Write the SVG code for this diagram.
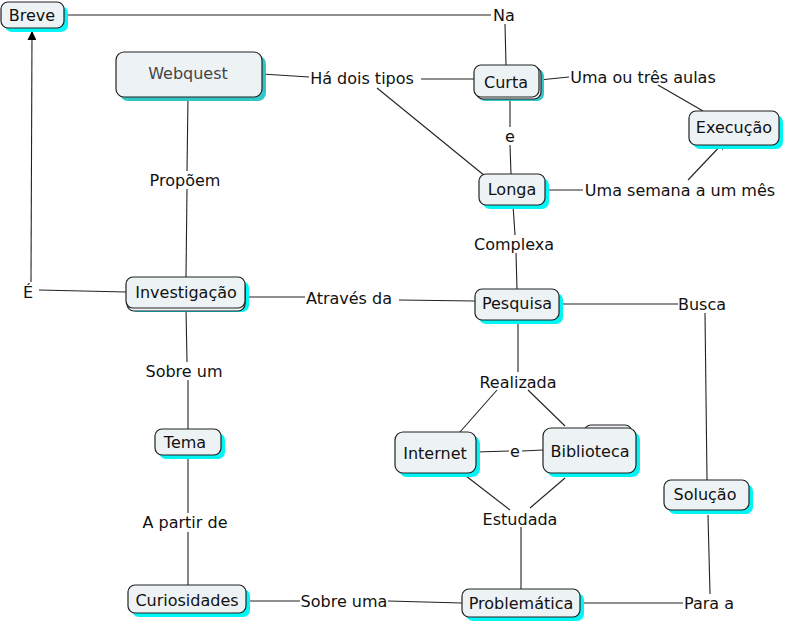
<svg xmlns="http://www.w3.org/2000/svg" width="786" height="624" viewBox="0 0 786 624">
<style>
.bg{fill:#ffffff}
.sh{fill:#00f5f5}
.sht{fill:#33c6c6}
.bk{fill:#eef3f5;stroke:#222;stroke-width:1.2}
.box{fill:#edf3f5;stroke:#222;stroke-width:1.2}
.t{font-family:"DejaVu Sans",Verdana,sans-serif;font-size:16px;fill:#111;text-anchor:middle}
.tg{fill:#444}
.c line{stroke:#222;stroke-width:1.1}
</style>
<defs>
<marker id="arr" viewBox="0 0 10 10" refX="9" refY="5" markerWidth="9" markerHeight="9" markerUnits="userSpaceOnUse" orient="auto">
<path d="M0,0 L10,5 L0,10 z" fill="#000"/>
</marker>
</defs>
<rect class="bg" x="0" y="0" width="786" height="624"/>
<g class="c" id="connectors">
<line x1="64" y1="15" x2="491" y2="15"/>
<line x1="505" y1="24" x2="506" y2="65"/>
<line x1="262" y1="74" x2="309" y2="77"/>
<line x1="421" y1="79" x2="474" y2="79"/>
<line x1="377" y1="88" x2="485" y2="176"/>
<line x1="539" y1="80" x2="569" y2="77"/>
<line x1="658" y1="85" x2="703" y2="111"/>
<line x1="510" y1="97" x2="510" y2="127"/>
<line x1="510" y1="145" x2="511" y2="174"/>
<line x1="545" y1="190" x2="583" y2="190"/>
<line x1="688" y1="180" x2="725" y2="141" marker-end="url(#arr)"/>
<line x1="188" y1="97" x2="187" y2="171"/>
<line x1="187" y1="189" x2="186" y2="277"/>
<line x1="513" y1="205" x2="515" y2="235"/>
<line x1="516" y1="253" x2="517" y2="289"/>
<line x1="126" y1="292" x2="39" y2="290"/>
<line x1="31" y1="282" x2="32" y2="32" marker-end="url(#arr)"/>
<line x1="245" y1="297" x2="305" y2="297"/>
<line x1="399" y1="300" x2="475" y2="301"/>
<line x1="559" y1="304" x2="678" y2="304"/>
<line x1="705" y1="313" x2="707" y2="480"/>
<line x1="186" y1="308" x2="187" y2="362"/>
<line x1="188" y1="380" x2="188" y2="429"/>
<line x1="518" y1="320" x2="518" y2="372"/>
<line x1="497" y1="390" x2="460" y2="432"/>
<line x1="528" y1="390" x2="565" y2="426"/>
<line x1="476" y1="452" x2="509" y2="451"/>
<line x1="522" y1="451" x2="543" y2="450"/>
<line x1="188" y1="455" x2="188" y2="513"/>
<line x1="188" y1="532" x2="188" y2="585"/>
<line x1="466" y1="476" x2="510" y2="510"/>
<line x1="565" y1="478" x2="530" y2="508"/>
<line x1="521" y1="527" x2="521" y2="589"/>
<line x1="246" y1="601" x2="300" y2="601"/>
<line x1="388" y1="601" x2="462" y2="603"/>
<line x1="580" y1="603" x2="683" y2="603"/>
<line x1="708" y1="515" x2="710" y2="594"/>
</g>
<g id="labels">
<text class="t" x="504" y="21">Na</text>
<text class="t" x="362" y="84">Há dois tipos</text>
<text class="t" x="643" y="83">Uma ou três aulas</text>
<text class="t" x="510" y="142">e</text>
<text class="t" x="680" y="196">Uma semana a um mês</text>
<text class="t" x="185" y="186">Propõem</text>
<text class="t" x="514" y="250">Complexa</text>
<text class="t" x="28" y="298">É</text>
<text class="t" x="349" y="304">Através da</text>
<text class="t" x="702" y="310">Busca</text>
<text class="t" x="184" y="377">Sobre um</text>
<text class="t" x="518" y="388">Realizada</text>
<text class="t" x="515" y="457">e</text>
<text class="t" x="185" y="528">A partir de</text>
<text class="t" x="520" y="525">Estudada</text>
<text class="t" x="344" y="607">Sobre uma</text>
<text class="t" x="709" y="609">Para a</text>
</g>
<g id="n-breve">
<rect class="sh" x="5" y="6" width="63" height="26" rx="7"/>
<rect class="box" x="1" y="2" width="63" height="26" rx="7"/>
<text class="t" x="32" y="21">Breve</text>
</g>
<g id="n-webquest">
<rect class="sht" x="120" y="56" width="146" height="45" rx="8"/>
<rect class="box" x="116" y="52" width="146" height="45" rx="8"/>
<text class="t tg" x="188" y="79">Webquest</text>
</g>
<g id="n-curta">
<rect class="sht" x="478" y="69" width="66" height="32" rx="7"/>
<rect class="bk" x="476" y="67" width="65" height="32" rx="7"/>
<rect class="box" x="474" y="65" width="65" height="32" rx="7"/>
<text class="t" x="506" y="88">Curta</text>
</g>
<g id="n-execucao">
<rect class="sh" x="693" y="115" width="90" height="34" rx="7"/>
<rect class="box" x="689" y="111" width="90" height="34" rx="7"/>
<text class="t" x="734" y="133">Execução</text>
</g>
<g id="n-longa">
<rect class="sh" x="483" y="178" width="66" height="31" rx="7"/>
<rect class="box" x="479" y="174" width="66" height="31" rx="7"/>
<text class="t" x="512" y="195">Longa</text>
</g>
<g id="n-investigacao">
<rect class="sh" x="130" y="281" width="119" height="31" rx="7"/>
<rect class="bk" x="127" y="280" width="118" height="31" rx="7"/>
<rect class="box" x="126" y="277" width="119" height="31" rx="7"/>
<text class="t" x="186" y="298">Investigação</text>
</g>
<g id="n-pesquisa">
<rect class="sh" x="479" y="293" width="84" height="31" rx="7"/>
<rect class="box" x="475" y="289" width="84" height="31" rx="7"/>
<text class="t" x="517" y="309">Pesquisa</text>
</g>
<g id="n-tema">
<rect class="sh" x="159" y="433" width="66" height="26" rx="7"/>
<rect class="box" x="155" y="429" width="66" height="26" rx="7"/>
<text class="t" x="185" y="448">Tema</text>
</g>
<g id="n-internet">
<rect class="sh" x="399" y="436" width="81" height="41" rx="8"/>
<rect class="box" x="395" y="432" width="81" height="41" rx="8"/>
<text class="t" x="435" y="459">Internet</text>
</g>
<g id="n-biblioteca">
<rect class="sh" x="547" y="432" width="93" height="45" rx="8"/>
<rect class="bk" x="584" y="425" width="48" height="20" rx="7"/>
<rect class="box" x="543" y="428" width="93" height="45" rx="8"/>
<text class="t" x="590" y="457">Biblioteca</text>
</g>
<g id="n-solucao">
<rect class="sh" x="668" y="484" width="85" height="30" rx="7"/>
<rect class="box" x="664" y="480" width="85" height="30" rx="7"/>
<text class="t" x="705" y="500">Solução</text>
</g>
<g id="n-curiosidades">
<rect class="sh" x="132" y="589" width="118" height="28" rx="7"/>
<rect class="box" x="128" y="585" width="118" height="28" rx="7"/>
<text class="t" x="187" y="606">Curiosidades</text>
</g>
<g id="n-problematica">
<rect class="sh" x="466" y="593" width="118" height="28" rx="7"/>
<rect class="box" x="462" y="589" width="118" height="28" rx="7"/>
<text class="t" x="521" y="609">Problemática</text>
</g>
</svg>
